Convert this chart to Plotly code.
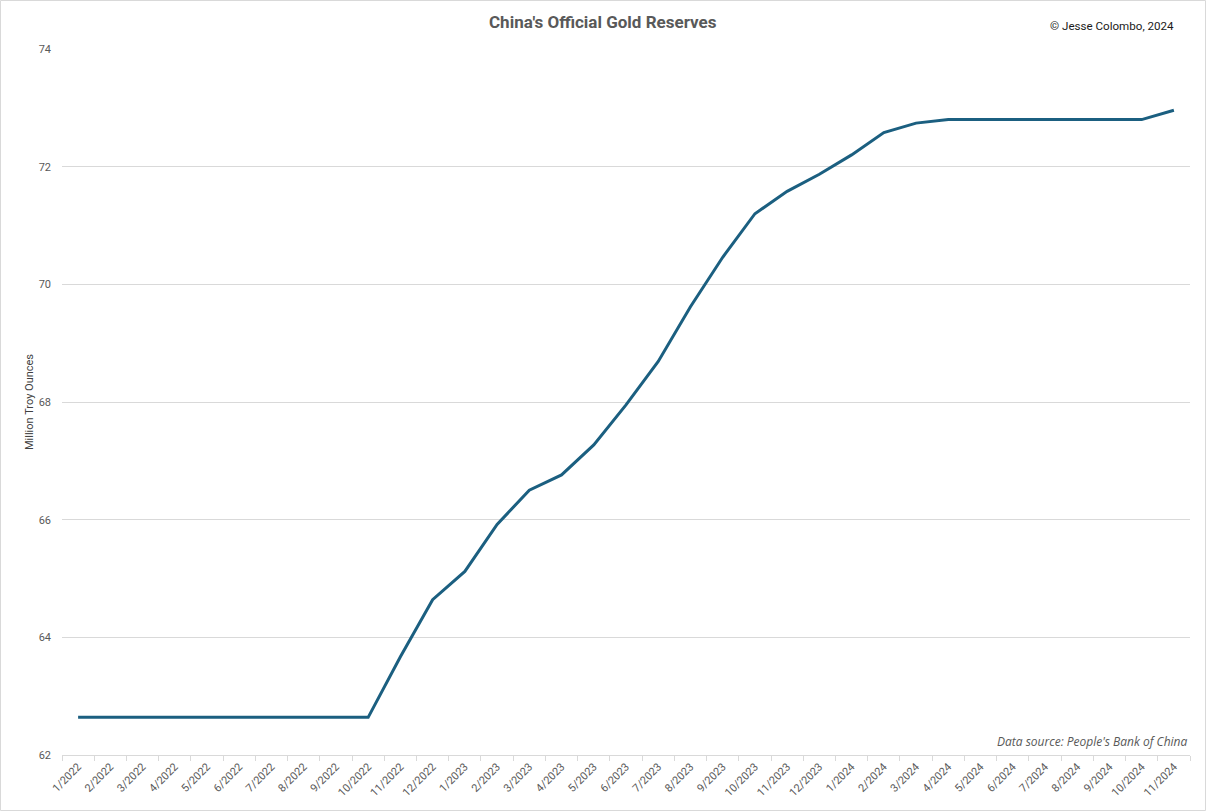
import plotly.graph_objects as go

months = [f"{m}/2022" for m in range(1, 13)] + [f"{m}/2023" for m in range(1, 13)] + [f"{m}/2024" for m in range(1, 12)]
reserves = [62.64, 62.64, 62.64, 62.64, 62.64, 62.64, 62.64, 62.64, 62.64, 62.64,
            63.67, 64.64,
            65.12, 65.92, 66.50, 66.76, 67.27, 67.95, 68.69, 69.62, 70.46, 71.20, 71.58, 71.87,
            72.20, 72.58, 72.74, 72.80, 72.80, 72.80, 72.80, 72.80, 72.80, 72.80, 72.96]
y_ticks = [62, 64, 66, 68, 70, 72, 74]

W, H = 1206, 811
ml, mr, mt, mb = 62, 16, 49, 56
pw, ph = W - ml - mr, H - mt - mb

fig = go.Figure(go.Scatter(x=months, y=reserves, mode="lines",
                           line=dict(color="#1B5F80", width=3), hoverinfo="x+y"))

def px(x):
    return (x - ml) / pw

def py(y):
    return (H - mb - y) / ph

fig.update_layout(
    width=W, height=H, autosize=False,
    margin=dict(l=ml, r=mr, t=mt, b=mb),
    paper_bgcolor="white", plot_bgcolor="white",
    showlegend=False,
    font=dict(family="Roboto, Liberation Sans, sans-serif", color="#595959"),
    xaxis=dict(type="category", showgrid=False, tickangle=-45, tickson="boundaries",
               ticks="outside", ticklen=5, tickcolor="#D9D9D9", showline=True,
               linecolor="#D9D9D9", linewidth=1,
               tickfont=dict(size=11, color="#595959"), range=[-0.5, 34.5]),
    yaxis=dict(range=[62, 74], tickvals=y_ticks, showgrid=True, gridcolor="#D9D9D9",
               gridwidth=1, zeroline=False, showline=False, ticks="",
               ticklabelstandoff=10,
               tickfont=dict(size=11, color="#595959"),
               title=dict(text="Million Troy Ounces", font=dict(size=11, color="#404040"), standoff=2)),
    shapes=[dict(type="rect", xref="paper", yref="paper",
                 x0=px(0.5), x1=px(W - 0.5), y0=py(H - 0.5), y1=py(0.5),
                 line=dict(color="#D9D9D9", width=1), fillcolor="rgba(0,0,0,0)", layer="below")],
    annotations=[
        dict(text="<b>China's Official Gold Reserves</b>", xref="paper", yref="paper",
             x=px(603), y=py(22), xanchor="center", yanchor="middle", showarrow=False,
             font=dict(size=17, color="#595959", family="Roboto, sans-serif")),
        dict(text="© Jesse Colombo, 2024", xref="paper", yref="paper",
             x=px(1176), y=py(26), xanchor="right", yanchor="middle", showarrow=False,
             font=dict(size=11.6, color="#1a1a1a", family="Roboto, sans-serif")),
        dict(text="<i>Data source: People's Bank of China</i>", xref="paper", yref="paper",
             x=px(1190), y=py(741), xanchor="right", yanchor="middle", showarrow=False,
             font=dict(size=12, color="#595959", family="Open Sans, sans-serif")),
    ],
)

fig.write_html("out.html", config={"displayModeBar": False},
               post_script="document.body.style.margin='0';document.body.style.padding='0';")
